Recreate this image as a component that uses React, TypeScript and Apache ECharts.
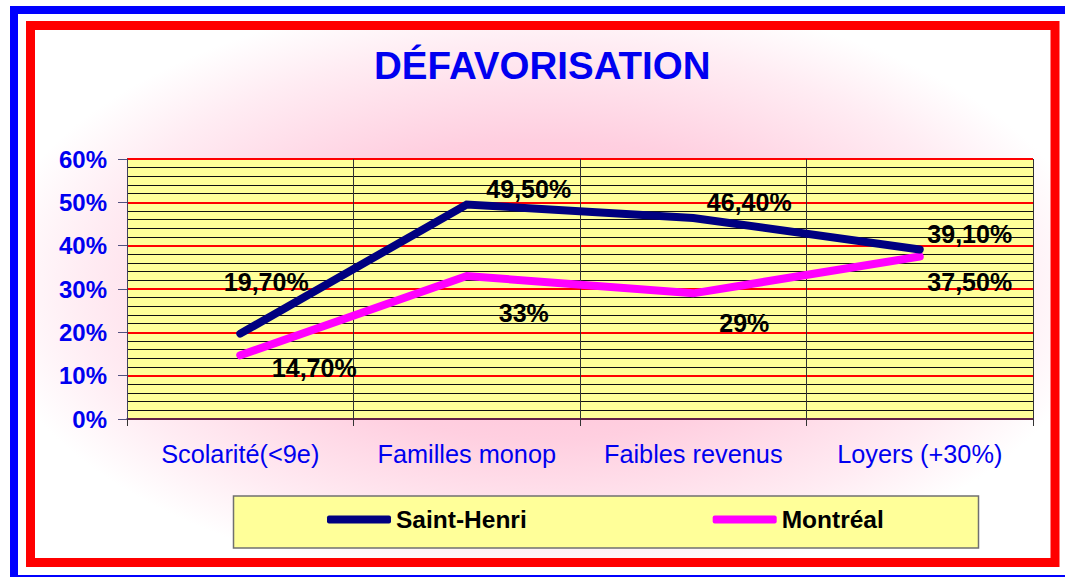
import React, { useEffect, useRef } from "react";
import * as echarts from "echarts";

const categories = ["Scolarité(<9e)", "Familles monop", "Faibles revenus", "Loyers (+30%)"];
const saintHenri = [19.7, 49.5, 46.4, 39.1];
const montreal = [14.7, 33, 29, 37.5];
const saintHenriLabels = ["19,70%", "49,50%", "46,40%", "39,10%"];
const montrealLabels = ["14,70%", "33%", "29%", "37,50%"];
const yMin = 0;
const yMax = 60;
const yStep = 10;

const FONT = "'Liberation Sans', Arial, sans-serif";
const BLUE = "#0000f0";

const shOffsets = [[26, -52], [62, -16], [56, -16], [50, -16]];
const mtOffsets = [[74, 13], [57, 37], [51, 30], [50, 25]];

export default function App() {
  const ref = useRef<HTMLDivElement>(null);
  useEffect(() => {
    if (!ref.current) return;
    const chart = echarts.init(ref.current, undefined, { renderer: "svg" });
    const mkData = (vals: number[], labels: string[], offs: number[][]) =>
      vals.map((v, i) => ({
        value: v,
        label: {
          show: true,
          position: "inside",
          offset: offs[i],
          formatter: labels[i],
          color: "#000",
          fontFamily: FONT,
          fontWeight: "bold",
          fontSize: 25,
        },
      }));
    chart.setOption({
      animation: false,
      backgroundColor: "transparent",
      title: {
        text: "DÉFAVORISATION",
        left: 374,
        top: 46,
        padding: 0,
        textStyle: { color: BLUE, fontFamily: FONT, fontWeight: "bold", fontSize: 38.5 },
      },
      graphic: [
        {
          type: "rect",
          shape: { x: 14, y: 10, width: 1070, height: 569 },
          style: { fill: "none", stroke: "#0000ff", lineWidth: 8 },
          silent: true,
        },
        {
          type: "rect",
          shape: { x: 30.5, y: 25.5, width: 1024.5, height: 537 },
          style: { fill: "none", stroke: "#ff0000", lineWidth: 9 },
          silent: true,
        },
        {
          type: "rect",
          shape: { x: 233.5, y: 496, width: 745, height: 52 },
          style: { fill: "#ffff99", stroke: "#707070", lineWidth: 1.5 },
          silent: true,
        },
      ],
      legend: {
        left: 327,
        top: 507,
        padding: 0,
        itemGap: 186,
        itemWidth: 64,
        itemHeight: 8,
        icon: "roundRect",
        textStyle: { color: "#000", fontFamily: FONT, fontWeight: "bold", fontSize: 24.5 },
        data: ["Saint-Henri", "Montréal"],
      },
      grid: {
        left: 127,
        right: 32,
        top: 159,
        bottom: 158,
        show: true,
        backgroundColor: "#ffff99",
        borderWidth: 0,
      },
      xAxis: {
        type: "category",
        data: categories,
        boundaryGap: true,
        axisLine: { show: true, lineStyle: { color: "#303060", width: 1.5 } },
        axisTick: { show: true, interval: 0, length: 7, lineStyle: { color: "#333" } },
        splitLine: { show: true, interval: 0, lineStyle: { color: "#333", width: 1 } },
        axisLabel: { interval: 0, color: BLUE, fontFamily: FONT, fontSize: 25.3, margin: 22 },
      },
      yAxis: {
        type: "value",
        min: yMin,
        max: yMax,
        interval: yStep,
        axisLine: { show: true, lineStyle: { color: "#404060", width: 1 } },
        axisTick: { show: true, length: 9, lineStyle: { color: "#505080" } },
        axisLabel: {
          color: BLUE,
          fontFamily: FONT,
          fontWeight: "bold",
          fontSize: 24,
          margin: 20,
          formatter: "{value}%",
        },
        splitLine: { show: true, lineStyle: { color: "#ff0000", width: 2 } },
        minorTick: { show: false, splitNumber: 5 },
        minorSplitLine: { show: true, lineStyle: { color: "#111", width: 1 } },
      },
      series: [
        {
          name: "Saint-Henri",
          type: "line",
          data: mkData(saintHenri, saintHenriLabels, shOffsets),
          symbol: "circle",
          symbolSize: 1,
          itemStyle: { color: "#000080" },
          lineStyle: { color: "#000080", width: 8, cap: "round", join: "miter" },
          z: 5,
        },
        {
          name: "Montréal",
          type: "line",
          data: mkData(montreal, montrealLabels, mtOffsets),
          symbol: "circle",
          symbolSize: 1,
          itemStyle: { color: "#ff00ff" },
          lineStyle: { color: "#ff00ff", width: 8, cap: "round", join: "miter" },
          z: 4,
        },
      ],
    });
    return () => chart.dispose();
  }, []);
  return (
    <div style={{ position: "absolute", left: 0, top: 0, width: 1065, height: 577, background: "#fff", overflow: "hidden" }}>
      <div
        style={{
          position: "absolute",
          left: 35,
          top: 30,
          width: 1015,
          height: 528,
          background:
            "radial-gradient(ellipse 560px 300px at 508px 260px, #ffb6d0 0%, #ffcfe0 50%, #ffecf3 82%, #ffffff 100%)",
        }}
      />
      <div ref={ref} style={{ position: "absolute", left: 0, top: 0, width: 1065, height: 577 }} />
    </div>
  );
}
